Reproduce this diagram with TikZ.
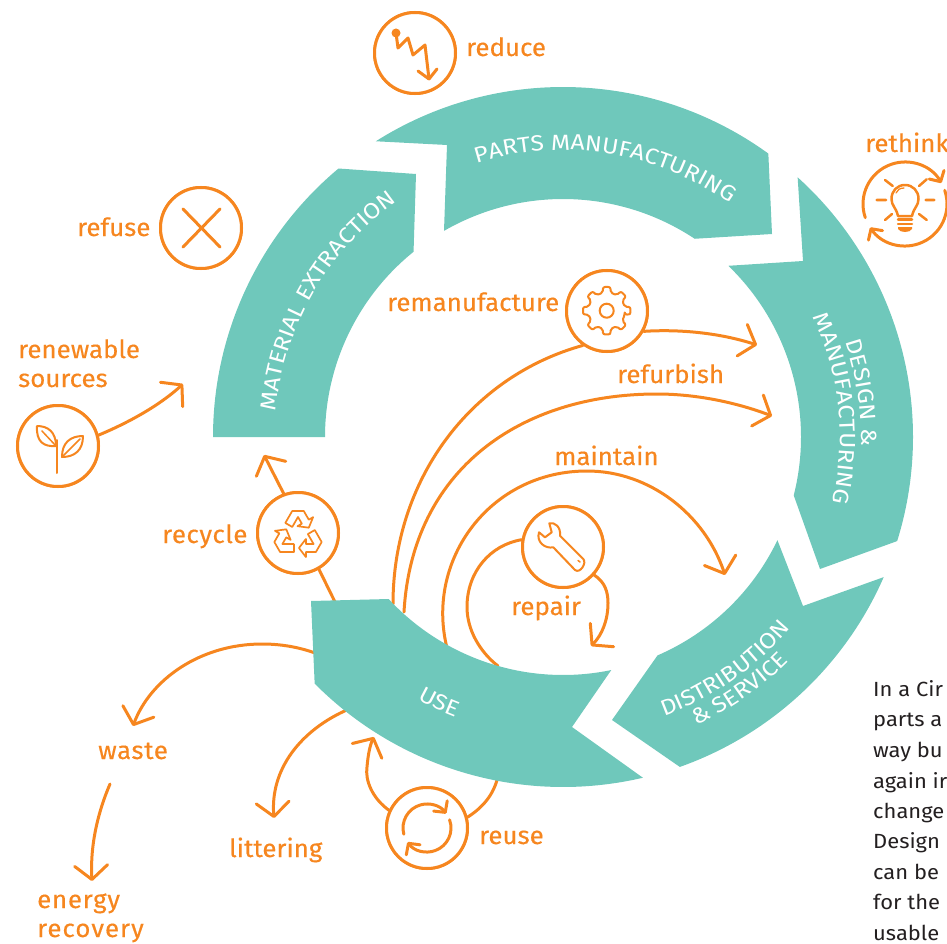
\documentclass[tikz,border=0pt]{standalone}
\usepackage{fontspec}
\setmainfont[FakeBold=0.35,FakeStretch=1.035]{Fira Sans}
\newfontfamily\ringfam[FakeStretch=1.12]{Fira Sans}
\newfontfamily\bodyfam[FakeStretch=1.07]{Fira Sans}
\usetikzlibrary{arrows.meta,decorations.text}
\definecolor{ringteal}{HTML}{6FC8BB}
\definecolor{lineorange}{HTML}{F6861F}
\definecolor{bodyink}{HTML}{231F20}
\tikzset{
  lab/.style={anchor=base west,inner sep=0pt,text=lineorange,font=\fontsize{25}{29}\selectfont},
  bodytxt/.style={anchor=base west,inner sep=0pt,text=bodyink,font=\bodyfam\fontsize{20.5}{24}\selectfont},
  ring/.style={circle,draw=lineorange,line width=3pt,fill=white,minimum size=81pt,inner sep=0pt},
  ghost/.style={circle,minimum size=84pt,inner sep=0pt},
  conn/.style={draw=lineorange,line width=3pt,line cap=round,line join=round},
  flow/.style={conn,-{Straight Barb[length=14pt,width=33pt,round]}},
  smallflow/.style={conn,-{Straight Barb[length=8pt,width=17pt,round]}},
  ico/.style={draw=lineorange,line width=2pt,line cap=round,line join=round},
}
\newcommand{\ringseg}[6]{\fill[ringteal] ([shift={(#1:350pt)}]c) arc[start angle=#1,end angle=#2,radius=350pt] -- #3 -- ([shift={(#4:238pt)}]c) arc[start angle=#4,end angle=#5,radius=238pt] -- #6 -- cycle;}
\newcommand{\ringfont}{\ringfam\fontsize{22}{22}\selectfont}
\newcommand{\ringtext}[4]{\path[decorate,decoration={text along path,text align=center,text color=white,text={|\ringfont|#4}}] ([shift={(#1:#3pt)}]c) arc[start angle=#1,end angle=#2,radius=#3pt];}
\begin{document}
\begin{tikzpicture}[x=1pt,y=-1pt]
\useasboundingbox (0,0) rectangle (947,944);
\clip (0,0) rectangle (947,944);
\coordinate (c) at (563,437);
% anchors on the ring
\coordinate (useA) at (393,604);
\coordinate (useB) at (404,612);
\coordinate (useC) at (447,648);
\coordinate (useD) at (498,666);
\coordinate (useE) at (336,604);
\coordinate (useF) at (318,654);
\coordinate (useG) at (349,709);
\coordinate (useH) at (498,776);
\coordinate (toDesignA) at (757,345);
\coordinate (toDesignB) at (772,416);
\coordinate (toDist) at (725,575);
\coordinate (toUseIn) at (591,646);
\coordinate (toMatA) at (183,384);
\coordinate (toMatB) at (264,455);
\coordinate (toUseOut) at (374,737);
\coordinate (wasteIn) at (133,726);
\coordinate (wasteOut) at (110,784);
\coordinate (energyIn) at (92,881);
\coordinate (litterIn) at (274,818);
% icon circles
\node[ring] (reduce) at (415,53) {};
\node[ring] (refuse) at (201,228) {};
\node[ring] (sprout) at (58,446) {};
\node[ring] (recycle) at (298,533) {};
\node[ring] (repair) at (563,547) {};
\node[ring] (reuse) at (427,828) {};
\node[ring] (reman) at (607,311) {};
\node[ghost] (rethink) at (905,204) {};
% connectors
\draw[flow] (reman.-29) .. controls (680,329) and (720,333) .. (toDesignA);
\draw[conn] (useA) .. controls (393,481) and (469,377) .. (reman.-125);
\draw[flow] (useB) .. controls (412,470) and (520,394) .. (657,394) .. controls (695,394) and (735,402) .. (toDesignB);
\draw[flow] (useC) .. controls (425,560) and (490,471) .. (587,471) .. controls (650,471) and (705,515) .. (toDist);
\draw[conn] (repair.170) .. controls (490,545) and (467,572) .. (467,607) .. controls (467,630) and (480,652) .. (useD);
\draw[flow] (repair.-42) .. controls (605,582) and (608,592) .. (608,603) .. controls (608,620) and (602,635) .. (toUseIn);
\draw[conn] (recycle.-60) -- (useE);
\draw[flow] (recycle.110) -- (toMatB);
\draw[flow] (sprout.15) .. controls (130,422) and (160,405) .. (toMatA);
\draw[flow] (useF) .. controls (299,647) and (281,644) .. (262,644) .. controls (200,644) and (150,680) .. (wasteIn);
\draw[flow] (wasteOut) .. controls (98,812) and (90,845) .. (energyIn);
\draw[flow] (useG) .. controls (300,730) and (270,770) .. (litterIn);
\draw[conn] (reuse.15) .. controls (482,808) and (494,795) .. (useH);
\draw[flow] (reuse.155) .. controls (372,798) and (365,780) .. (367,767) .. controls (368,755) and (370,745) .. (toUseOut);
% ring
\ringseg{122.33}{54.08}{(772,234)}{56.4}{120}{(447,145)}
\ringseg{129.9}{180}{(213,437)}{180}{128.9}{(416,174)}
\ringseg{47.9}{-17.3}{(820,569)}{-14.2}{46}{(803,261)}
\ringseg{-23.6}{-70.5}{(612,720)}{-66.6}{-25.7}{(803,606)}
\ringseg{-76.8}{-135.2}{(311,601)}{-137.1}{-78.3}{(572,727)}
% redraw circles above connectors
\node[ring] at (reduce) {};
\node[ring] at (refuse) {};
\node[ring] at (sprout) {};
\node[ring] at (recycle) {};
\node[ring] at (repair) {};
\node[ring] at (reuse) {};
\node[ring] at (reman) {};
% ring text
\ringtext{195}{105}{288}{MATERIAL EXTRACTION}
\ringtext{126}{36}{287}{PARTS MANUFACTURING}
\ringtext{53.5}{-36.5}{298}{DESIGN {\&}}
\ringtext{51}{-39}{277}{MANUFACTURING}
\ringtext{-100}{-10}{297}{DISTRIBUTION}
\ringtext{-100}{-10}{318}{{\&} SERVICE}
\ringtext{-160}{-70}{300}{USE}
% reduce icon
\fill[lineorange] (396,33) circle[radius=4.5pt];
\draw[conn] (396,33) -- (398,48) -- (408,38) -- (413,55) -- (425,45) -- (429,79);
\draw[conn] (418,71) -- (429,79) -- (437,69);
% refuse icon
\draw[conn] (183,209) -- (220,247);
\draw[conn] (220,209) -- (183,247);
% sprout icon
\draw[ico] (57,440) -- (57,473);
\draw[ico] (37,426) .. controls (48,426) and (56,432) .. (56,446) .. controls (44,447) and (36,442) .. (37,426);
\draw[ico] (83,436) .. controls (70,436) and (62,443) .. (62,457) .. controls (75,457) and (83,450) .. (83,436);
\draw[ico,line width=1.5pt] (42,431) -- (56,446);
\draw[ico,line width=1.5pt] (80,439) -- (63,456);
% recycle icon
\coordinate (rc) at (298,535);
\foreach \r in {0,120,240}{
\begin{scope}[shift={(rc)},rotate=\r]
\draw[ico,line width=1.7pt] (-12.68,-12.05) -- (-5.77,-24) -- (5.77,-24) -- (10.77,-15.34) -- (15.1,-17.84) -- (10.8,-7.3) -- (-0.49,-8.84) -- (3.84,-11.34) -- (0,-18) -- (-5.75,-8.05) -- cycle;
\end{scope}}
% wrench icon
\draw[ico] (549.3,523.3) .. controls (555,522) and (561,527) .. (560,535.7) -- (583.3,559) .. controls (587,563) and (580,574) .. (575,570) -- (553.3,547.3) .. controls (545,549) and (536,542) .. (539,532.3) -- (545,537.3) -- (551.7,532.3) -- cycle;
\draw[ico,line width=1.5pt] (578,560.5) -- (580,562);
% gear icon
\coordinate (g) at (606.7,310.7);
\draw[ico,rounded corners=2pt] ([shift={(-12:18.5pt)}]g) \foreach \a in {0,45,...,315}{ -- ([shift={(\a-12:18.5pt)}]g) -- ([shift={(\a-9:24pt)}]g) -- ([shift={(\a+9:24pt)}]g) -- ([shift={(\a+12:18.5pt)}]g) } -- cycle;
\draw[ico] (g) circle[radius=7pt];
% rethink icon
\draw[smallflow] ([shift={(199:42pt)}]rethink) arc[start angle=199,end angle=30,radius=42pt];
\draw[smallflow] ([shift={(19:42pt)}]rethink) arc[start angle=19,end angle=-146,radius=42pt];
\draw[ico,line width=2.5pt] (898,216) .. controls (896,207) and (891.5,206) .. (891.5,199) .. controls (891.5,191) and (897,185) .. (905,185) .. controls (913,185) and (918.5,191) .. (918.5,199) .. controls (918.5,206) and (914,207) .. (912,216) -- cycle;
\draw[ico,line width=1.3pt] (896,193) .. controls (897,190) and (900,188) .. (904,188);
\draw[ico,line width=2.5pt] (898,219.5) -- (912,219.5) (898,224) -- (912,224);
\fill[lineorange] (898,227) rectangle (912,229) (898,229) .. controls (900,233) and (910,233) .. (912,229) -- cycle;
\draw[ico,line width=2.5pt] (885,180) -- (892.7,186) (926.7,179.3) -- (919,186) (876.7,200) -- (886,200) (925.7,200) -- (934.3,200) (885,220) -- (892,214) (919,214) -- (926.7,220);
% reuse icon
\draw[smallflow] ([shift={(195:24pt)}]reuse) arc[start angle=195,end angle=37,radius=24pt];
\draw[smallflow] ([shift={(20:24pt)}]reuse) arc[start angle=20,end angle=-144,radius=24pt];
% labels
\node[lab] (treduce) at (466,56) {reduce};
\node[lab] (trefuse) at (77,236) {refuse};
\node[lab] (trenew) at (18,358) {renewable};
\node[lab] (tsources) at (18,387) {sources};
\node[lab] (treman) at (387,311) {remanufacture};
\node[lab] (trefurb) at (617,383) {refurbish};
\node[lab] (tmaintain) at (554,465) {maintain};
\node[lab] (trepair) at (511,615) {repair};
\node[lab] (trecycle) at (162,543) {\addfontfeature{LetterSpace=2}recycle};
\node[lab] (twaste) at (98,759) {\addfontfeature{LetterSpace=2.5}waste};
\node[lab] (tenergy) at (37,908) {\addfontfeature{LetterSpace=3}energy};
\node[lab] (trecovery) at (37,937) {\addfontfeature{LetterSpace=4}recovery};
\node[lab] (tlitter) at (229,857) {littering};
\node[lab] (treuse) at (479,844) {reuse};
\node[lab] (trethink) at (865,152) {rethink};
% body text
\node[bodytxt] (b1) at (873,696) {In a Cir};
\node[bodytxt] (b2) at (873,726) {parts a};
\node[bodytxt] (b3) at (873,757) {way bu};
\node[bodytxt] (b4) at (873,788) {again ir};
\node[bodytxt] (b5) at (873,818) {change};
\node[bodytxt] (b6) at (873,848) {Design};
\node[bodytxt] (b7) at (873,879) {can be};
\node[bodytxt] (b8) at (873,909) {for the};
\node[bodytxt] (b9) at (873,940) {usable};
\end{tikzpicture}
\end{document}
